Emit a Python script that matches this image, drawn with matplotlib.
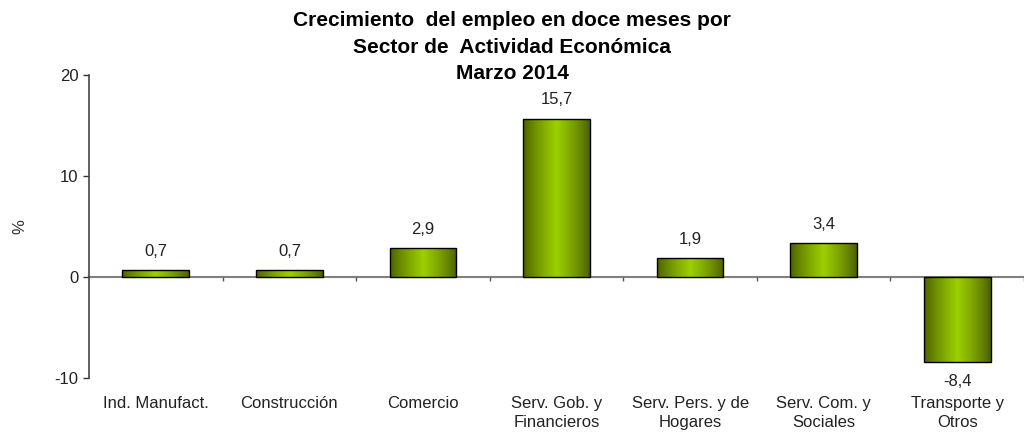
# Crecimiento del empleo en doce meses por sector, marzo 2014

import matplotlib.pyplot as plt
import matplotlib.transforms as mtransforms
import numpy

categories = ['Ind. Manufact.', 'Construcción', 'Comercio', 'Serv. Gob. y\nFinancieros',
              'Serv. Pers. y de\nHogares', 'Serv. Com. y\nSociales', 'Transporte y\nOtros']
values = [0.7, 0.7, 2.9, 15.7, 1.9, 3.4, -8.4]
value_labels = ['0,7', '0,7', '2,9', '15,7', '1,9', '3,4', '-8,4']
y_ticks = [-10, 0, 10, 20]

plt.rcParams['font.family'] = ['Liberation Sans', 'DejaVu Sans']
plt.rcParams['axes.unicode_minus'] = False

fig = plt.figure(figsize=(10.24, 4.32), dpi=100)
ax = fig.add_axes([0.087, 0.125, 0.913, 0.701])

n = len(categories)
x = numpy.arange(n)
width = 0.5

# horizontal gradient, dark olive at edges, bright green in the middle
t = numpy.linspace(0, 1, 256)
shade = 1 - numpy.abs(t - 0.5) * 2
dark = numpy.array([0x4a, 0x5c, 0x00]) / 255.
light = numpy.array([0x9c, 0xd0, 0x00]) / 255.
grad = dark[None, :] + (light - dark)[None, :] * (shade ** 0.8)[:, None]
grad = grad[None, :, :]

bars = ax.bar(x, values, width, facecolor='none', edgecolor='black', linewidth=1.0, zorder=3)
for bar in bars:
    bx, by = bar.get_x(), bar.get_y()
    bw, bh = bar.get_width(), bar.get_height()
    im = ax.imshow(grad, extent=[bx, bx + bw, by, by + bh], aspect='auto', zorder=2)
    im.set_clip_path(bar)

for i in range(n):
    v = values[i]
    if v >= 0:
        ax.text(x[i], v + 1.1, value_labels[i], ha='center', va='bottom', fontsize=12, color='#222222')
    else:
        ax.text(x[i], v - 1.2, value_labels[i], ha='center', va='top', fontsize=12, color='#222222')

ax.set_xlim(-0.5, n - 0.5)
ax.set_ylim(-10, 20)
ax.set_yticks(y_ticks)
ax.tick_params(axis='y', labelsize=12, length=4, width=1, colors='#333333', labelcolor='#222222')

ax.spines['top'].set_visible(False)
ax.spines['right'].set_visible(False)
ax.spines['left'].set_color('#444444')
ax.spines['left'].set_linewidth(1.2)
ax.spines['bottom'].set_position(('data', 0))
ax.spines['bottom'].set_color('#808080')
ax.spines['bottom'].set_linewidth(1.5)
ax.spines['bottom'].set_zorder(1)

ax.set_xticks(numpy.arange(n) + 0.5)
ax.set_xticklabels([])
ax.tick_params(axis='x', length=3, width=1, colors='#555555')

trans = mtransforms.blended_transform_factory(ax.transData, ax.transAxes)
for i in range(n):
    ax.text(x[i], -0.06, categories[i], transform=trans, ha='center', va='top',
            fontsize=12, color='#222222', linespacing=1.35)

ax.set_ylabel('%', fontsize=12, color='#333333', labelpad=20)

fig.text(0.5, 0.974, 'Crecimiento  del empleo en doce meses por\nSector de  Actividad Económica\nMarzo 2014',
         ha='center', va='top', fontsize=15, fontweight='bold', linespacing=1.5)

fig.savefig('out.png', dpi=100)
